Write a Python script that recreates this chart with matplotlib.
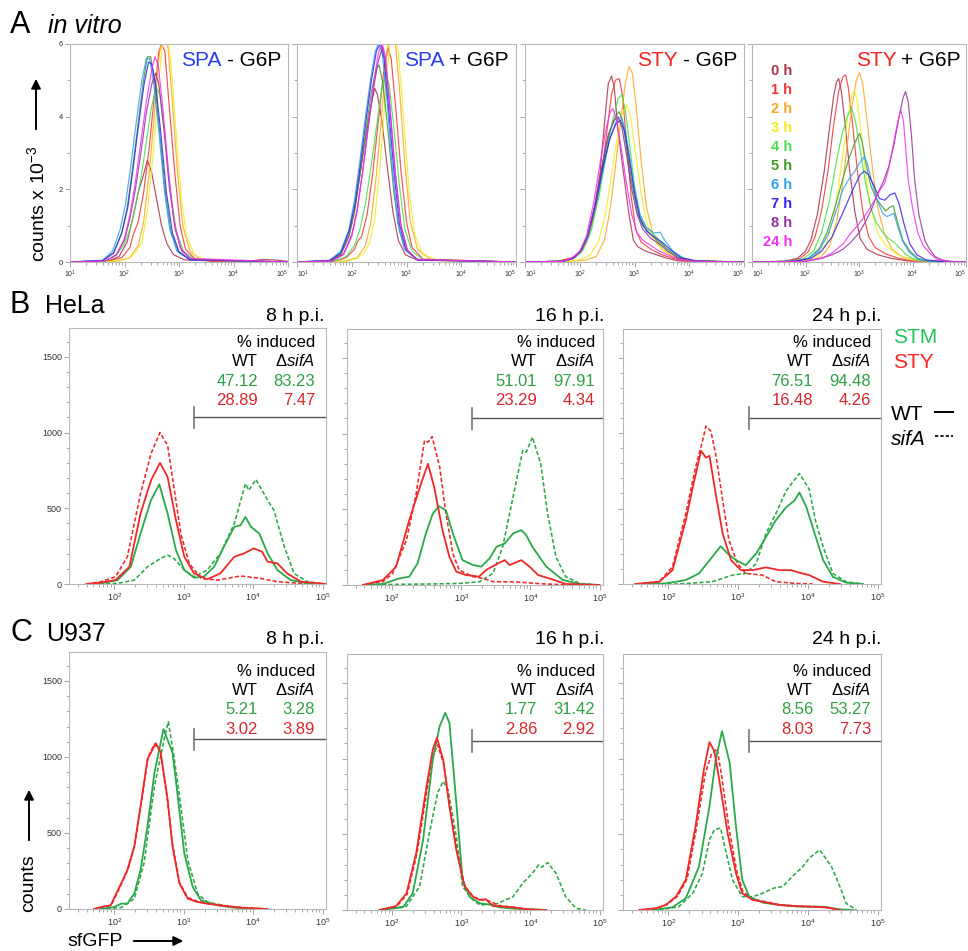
import matplotlib
matplotlib.use('Agg')
import matplotlib.pyplot as plt
import numpy as np
from matplotlib.ticker import LogLocator, MultipleLocator, NullFormatter

plt.rcParams['font.family'] = ['Liberation Sans', 'DejaVu Sans']
plt.rcParams['mathtext.fontset'] = 'custom'
plt.rcParams['mathtext.rm'] = 'Liberation Sans'
plt.rcParams['mathtext.it'] = 'Liberation Sans:italic'
plt.rcParams['mathtext.bf'] = 'Liberation Sans:bold'

# ---------------- DATA ----------------
# Curves are lists of (log10 sfGFP intensity, count) vertices.
time_labels = ['0 h', '1 h', '2 h', '3 h', '4 h', '5 h', '6 h', '7 h', '8 h', '24 h']
time_colors = ['#a8304c', '#f23434', '#f7a623', '#f2ec1c', '#44e04a', '#3f9a25',
               '#2ea0f0', '#3322ee', '#93309f', '#f22ef0']

# Panel A: counts x 10^-3
A_spa_minus = [
    [(1.0,0),(1.7,0.03),(1.9,0.15),(2.05,0.55),(2.15,1.2),(2.25,1.9),(2.33,2.3),(2.42,2.8),(2.5,2.45),(2.58,1.8),(2.68,1.0),(2.78,0.5),(2.9,0.2),(3.1,0.06),(3.6,0.03),(4.3,0.03),(4.55,0.07),(4.8,0.05),(5.0,0.02)],
    [(1.0,0),(1.7,0.02),(1.95,0.12),(2.1,0.4),(2.16,0.75),(2.25,1.1),(2.35,1.9),(2.45,3.1),(2.55,4.6),(2.63,5.8),(2.68,6.0),(2.74,5.8),(2.82,4.3),(2.92,2.5),(3.02,1.0),(3.12,0.35),(3.3,0.08),(3.6,0.02),(5.0,0)],
    [(1.0,0),(1.85,0.02),(2.1,0.12),(2.25,0.45),(2.35,1.1),(2.45,2.4),(2.55,4.1),(2.63,5.6),(2.7,6.4),(2.78,6.2),(2.87,4.6),(2.97,2.5),(3.07,1.0),(3.2,0.3),(3.4,0.06),(5.0,0)],
    [(1.0,0),(1.9,0.02),(2.1,0.12),(2.22,0.3),(2.32,0.55),(2.42,1.4),(2.52,2.9),(2.62,4.8),(2.7,6.1),(2.76,6.4),(2.84,5.7),(2.94,3.7),(3.04,1.8),(3.14,0.7),(3.28,0.2),(3.5,0.05),(5.0,0)],
    [(1.0,0),(1.65,0.03),(1.85,0.18),(2.0,0.5),(2.1,0.9),(2.2,1.5),(2.3,2.3),(2.4,3.3),(2.5,4.3),(2.58,4.8),(2.65,4.6),(2.74,3.5),(2.84,2.0),(2.95,0.85),(3.08,0.3),(3.3,0.06),(5.0,0)],
    [(1.0,0),(1.6,0.04),(1.8,0.25),(1.95,0.8),(2.05,1.5),(2.15,2.6),(2.25,3.8),(2.35,5.0),(2.42,5.65),(2.48,5.65),(2.55,5.0),(2.65,3.5),(2.75,1.9),(2.85,0.85),(2.98,0.3),(3.2,0.07),(5.0,0)],
    [(1.0,0),(1.6,0.05),(1.78,0.3),(1.92,0.9),(2.02,1.6),(2.12,2.7),(2.22,3.9),(2.32,5.0),(2.4,5.6),(2.46,5.6),(2.53,5.0),(2.63,3.6),(2.73,2.0),(2.83,0.9),(2.96,0.3),(3.2,0.06),(5.0,0)],
    [(1.0,0),(1.6,0.04),(1.8,0.25),(1.95,0.8),(2.06,1.5),(2.16,2.6),(2.26,3.8),(2.36,4.9),(2.44,5.5),(2.5,5.45),(2.57,4.9),(2.67,3.5),(2.77,1.9),(2.88,0.8),(3.0,0.28),(3.2,0.06),(5.0,0)],
    [(1.0,0),(1.65,0.03),(1.85,0.2),(2.0,0.6),(2.1,1.2),(2.2,2.0),(2.3,3.0),(2.4,4.1),(2.5,4.9),(2.57,5.2),(2.63,4.9),(2.72,3.7),(2.82,2.1),(2.93,0.9),(3.05,0.3),(3.25,0.06),(5.0,0)],
    [(1.0,0),(1.65,0.03),(1.85,0.2),(2.0,0.65),(2.1,1.3),(2.2,2.2),(2.3,3.3),(2.4,4.4),(2.5,5.3),(2.56,5.65),(2.62,5.4),(2.7,4.3),(2.8,2.6),(2.9,1.2),(3.02,0.4),(3.2,0.1),(5.0,0)],
]
A_spa_plus = [
    [(1.0,0),(1.6,0.03),(1.8,0.2),(1.95,0.7),(2.05,1.4),(2.15,2.4),(2.25,3.4),(2.35,4.3),(2.42,4.78),(2.47,4.6),(2.55,3.9),(2.65,2.6),(2.75,1.4),(2.85,0.6),(2.98,0.2),(3.2,0.05),(5.0,0)],
    [(1.0,0),(1.7,0.02),(1.9,0.12),(2.05,0.35),(2.12,0.6),(2.18,0.7),(2.28,1.3),(2.38,2.4),(2.48,3.8),(2.58,5.2),(2.66,5.9),(2.72,5.6),(2.8,4.3),(2.9,2.5),(3.0,1.1),(3.1,0.4),(3.3,0.08),(5.0,0)],
    [(1.0,0),(1.85,0.02),(2.1,0.12),(2.25,0.45),(2.35,1.1),(2.45,2.4),(2.55,4.1),(2.63,5.6),(2.7,6.4),(2.78,6.3),(2.87,4.8),(2.97,2.7),(3.07,1.1),(3.2,0.35),(3.45,0.06),(4.0,0.02),(5.0,0)],
    [(1.0,0),(1.9,0.02),(2.1,0.1),(2.22,0.25),(2.32,0.5),(2.42,1.2),(2.52,2.7),(2.62,4.7),(2.7,6.1),(2.77,6.4),(2.85,5.8),(2.95,3.9),(3.05,1.9),(3.15,0.75),(3.3,0.2),(3.6,0.04),(4.2,0.02),(5.0,0)],
    [(1.0,0),(1.7,0.03),(1.9,0.15),(2.05,0.45),(2.15,0.9),(2.25,1.6),(2.35,2.6),(2.45,3.7),(2.55,4.8),(2.62,5.2),(2.68,4.9),(2.77,3.7),(2.87,2.1),(2.97,0.9),(3.1,0.3),(3.3,0.06),(5.0,0)],
    [(1.0,0),(1.6,0.04),(1.8,0.22),(1.95,0.75),(2.05,1.4),(2.15,2.4),(2.25,3.5),(2.35,4.6),(2.44,5.3),(2.5,5.42),(2.57,4.9),(2.67,3.5),(2.77,1.9),(2.87,0.85),(3.0,0.3),(3.2,0.07),(5.0,0)],
    [(1.0,0),(1.6,0.05),(1.8,0.3),(1.95,0.9),(2.05,1.7),(2.15,2.8),(2.25,4.0),(2.35,5.1),(2.43,5.8),(2.5,6.05),(2.56,5.7),(2.64,4.5),(2.74,2.6),(2.84,1.1),(2.96,0.35),(3.2,0.06),(5.0,0)],
    [(1.0,0),(1.6,0.04),(1.8,0.25),(1.95,0.85),(2.06,1.6),(2.16,2.7),(2.26,3.9),(2.36,5.0),(2.45,5.8),(2.53,6.05),(2.59,5.6),(2.67,4.3),(2.77,2.5),(2.87,1.05),(2.99,0.35),(3.2,0.06),(5.0,0)],
    [(1.0,0),(1.65,0.03),(1.85,0.22),(2.0,0.75),(2.1,1.45),(2.2,2.5),(2.3,3.7),(2.4,4.8),(2.48,5.5),(2.56,5.9),(2.62,5.5),(2.7,4.2),(2.8,2.4),(2.9,1.0),(3.02,0.32),(3.2,0.06),(5.0,0)],
    [(1.0,0),(1.65,0.03),(1.85,0.2),(2.0,0.7),(2.1,1.4),(2.2,2.5),(2.3,3.7),(2.4,4.9),(2.48,5.7),(2.55,6.05),(2.61,5.7),(2.69,4.4),(2.79,2.5),(2.89,1.1),(3.0,0.35),(3.2,0.07),(5.0,0)],
]
A_sty_minus = [
    [(1.0,0),(1.6,0.02),(1.82,0.1),(1.92,0.15),(2.05,0.35),(2.13,0.6),(2.25,1.3),(2.37,2.44),(2.45,3.8),(2.52,4.9),(2.58,5.12),(2.63,4.8),(2.7,3.6),(2.8,2.44),(2.9,1.3),(2.98,0.6),(3.06,0.42),(3.2,0.3),(3.4,0.2),(3.6,0.1),(3.8,0.03),(5.0,0)],
    [(1.0,0),(1.6,0.02),(1.85,0.1),(2.0,0.25),(2.12,0.55),(2.25,1.2),(2.38,2.2),(2.48,3.4),(2.58,4.6),(2.65,5.0),(2.72,5.05),(2.78,4.6),(2.86,3.2),(2.94,1.8),(3.02,0.9),(3.12,0.55),(3.3,0.35),(3.5,0.2),(3.7,0.1),(3.9,0.03),(5.0,0)],
    [(1.0,0),(1.8,0.02),(2.1,0.05),(2.3,0.15),(2.45,0.6),(2.55,1.4),(2.65,2.6),(2.75,3.9),(2.83,4.9),(2.9,5.38),(2.96,5.2),(3.03,4.3),(3.12,2.8),(3.22,1.5),(3.35,0.7),(3.5,0.35),(3.7,0.15),(4.0,0.05),(4.3,0.02),(5.0,0)],
    [(1.0,0),(1.8,0.02),(2.0,0.06),(2.2,0.2),(2.35,0.6),(2.48,1.4),(2.58,2.4),(2.68,3.4),(2.78,4.1),(2.86,4.32),(2.93,4.0),(3.02,3.0),(3.12,1.9),(3.22,1.1),(3.35,0.6),(3.5,0.35),(3.7,0.15),(4.0,0.04),(5.0,0)],
    [(1.0,0),(1.7,0.02),(1.9,0.1),(2.05,0.3),(2.2,0.8),(2.35,1.8),(2.48,2.9),(2.6,3.9),(2.7,4.5),(2.77,4.6),(2.83,4.2),(2.92,3.1),(3.0,2.1),(3.1,1.3),(3.2,0.95),(3.3,0.85),(3.45,0.6),(3.6,0.35),(3.8,0.15),(4.1,0.03),(5.0,0)],
    [(1.0,0),(1.7,0.02),(1.88,0.1),(2.02,0.3),(2.15,0.75),(2.3,1.7),(2.42,2.7),(2.55,3.6),(2.65,4.0),(2.72,4.14),(2.78,3.9),(2.86,3.1),(2.95,2.2),(3.05,1.4),(3.15,1.0),(3.3,0.75),(3.45,0.55),(3.6,0.35),(3.8,0.12),(4.1,0.03),(5.0,0)],
    [(1.0,0),(1.7,0.02),(1.88,0.1),(2.02,0.3),(2.15,0.7),(2.3,1.6),(2.42,2.5),(2.55,3.4),(2.66,3.85),(2.75,4.0),(2.82,3.7),(2.9,3.0),(3.0,2.0),(3.1,1.3),(3.22,0.95),(3.35,0.8),(3.47,0.82),(3.55,0.6),(3.7,0.3),(3.9,0.1),(4.2,0.02),(5.0,0)],
    [(1.0,0),(1.7,0.02),(1.88,0.1),(2.02,0.32),(2.15,0.75),(2.3,1.65),(2.42,2.6),(2.55,3.4),(2.66,3.8),(2.74,3.9),(2.82,3.6),(2.9,2.9),(3.0,1.9),(3.1,1.2),(3.22,0.85),(3.35,0.7),(3.5,0.55),(3.65,0.35),(3.85,0.12),(4.1,0.03),(5.0,0)],
    [(1.0,0),(1.7,0.02),(1.88,0.1),(2.02,0.3),(2.15,0.75),(2.28,1.6),(2.4,2.6),(2.52,3.5),(2.63,3.9),(2.7,4.0),(2.77,3.7),(2.86,2.9),(2.95,2.0),(3.05,1.3),(3.15,0.9),(3.3,0.65),(3.45,0.5),(3.6,0.3),(3.8,0.1),(4.1,0.02),(5.0,0)],
    [(1.0,0),(1.7,0.02),(1.85,0.1),(2.0,0.3),(2.12,0.7),(2.25,1.6),(2.37,2.7),(2.47,3.6),(2.55,4.1),(2.6,4.23),(2.66,4.0),(2.75,3.2),(2.85,2.2),(2.95,1.3),(3.05,0.8),(3.15,0.6),(3.3,0.45),(3.45,0.3),(3.6,0.2),(3.8,0.08),(4.1,0.02),(5.0,0)],
]
A_sty_plus = [
    [(1.0,0),(1.6,0.02),(1.85,0.1),(2.0,0.3),(2.1,0.6),(2.22,1.3),(2.35,2.5),(2.45,3.7),(2.53,4.6),(2.58,4.95),(2.62,5.05),(2.67,4.7),(2.74,3.8),(2.82,2.6),(2.92,1.4),(3.02,0.65),(3.15,0.35),(3.35,0.2),(3.6,0.1),(3.9,0.03),(5.0,0)],
    [(1.0,0),(1.7,0.02),(1.9,0.1),(2.05,0.28),(2.18,0.7),(2.3,1.4),(2.42,2.5),(2.52,3.7),(2.62,4.7),(2.7,5.1),(2.75,5.15),(2.8,4.8),(2.88,3.8),(2.97,2.5),(3.07,1.4),(3.18,0.7),(3.3,0.4),(3.5,0.22),(3.75,0.1),(4.0,0.03),(5.0,0)],
    [(1.0,0),(1.8,0.02),(2.1,0.05),(2.3,0.15),(2.45,0.45),(2.58,1.1),(2.68,2.0),(2.78,3.2),(2.87,4.3),(2.95,5.0),(3.01,5.21),(3.07,4.9),(3.15,3.9),(3.25,2.6),(3.35,1.5),(3.48,0.75),(3.62,0.35),(3.8,0.15),(4.1,0.04),(5.0,0)],
    [(1.0,0),(1.8,0.02),(2.05,0.06),(2.25,0.2),(2.4,0.55),(2.52,1.2),(2.62,2.1),(2.72,3.2),(2.8,4.1),(2.87,4.6),(2.91,4.73),(2.96,4.5),(3.03,3.7),(3.12,2.5),(3.22,1.5),(3.35,0.8),(3.5,0.45),(3.7,0.22),(3.95,0.07),(4.3,0.02),(5.0,0)],
    [(1.0,0),(1.7,0.02),(1.95,0.08),(2.15,0.3),(2.3,0.8),(2.45,1.7),(2.57,2.7),(2.68,3.5),(2.78,4.0),(2.86,4.23),(2.93,3.9),(3.02,3.1),(3.12,2.2),(3.22,1.5),(3.32,1.1),(3.45,0.8),(3.55,0.65),(3.65,0.55),(3.75,0.4),(3.88,0.2),(4.05,0.07),(4.3,0.02),(5.0,0)],
    [(1.0,0),(1.8,0.02),(2.05,0.1),(2.25,0.35),(2.4,0.8),(2.55,1.5),(2.68,2.2),(2.8,2.8),(2.9,3.2),(2.96,3.4),(3.01,3.54),(3.06,3.3),(3.13,2.7),(3.22,2.1),(3.32,1.75),(3.42,1.55),(3.5,1.4),(3.57,1.5),(3.64,1.55),(3.72,1.1),(3.82,0.6),(3.95,0.3),(4.1,0.1),(4.3,0.02),(5.0,0)],
    [(1.0,0),(1.8,0.02),(2.05,0.1),(2.25,0.3),(2.42,0.75),(2.57,1.4),(2.7,2.0),(2.82,2.3),(2.92,2.5),(3.0,2.7),(3.1,2.9),(3.16,2.7),(3.24,2.2),(3.34,1.7),(3.44,1.35),(3.52,1.25),(3.6,1.3),(3.65,1.34),(3.72,1.0),(3.82,0.55),(3.95,0.25),(4.1,0.08),(4.3,0.02),(5.0,0)],
    [(1.0,0),(1.8,0.02),(2.1,0.1),(2.3,0.3),(2.5,0.7),(2.65,1.2),(2.8,1.7),(2.92,2.1),(3.02,2.4),(3.1,2.5),(3.18,2.4),(3.28,2.1),(3.38,1.75),(3.48,1.7),(3.58,1.85),(3.67,1.9),(3.75,1.6),(3.85,1.0),(3.95,0.5),(4.08,0.2),(4.25,0.06),(4.5,0.02),(5.0,0)],
    [(1.0,0),(2.0,0.02),(2.3,0.1),(2.5,0.2),(2.7,0.35),(2.85,0.55),(3.0,0.8),(3.12,1.1),(3.25,1.5),(3.35,1.9),(3.45,2.2),(3.55,2.6),(3.65,3.2),(3.75,4.0),(3.82,4.5),(3.87,4.69),(3.92,4.4),(3.98,3.5),(4.04,2.26),(4.12,1.3),(4.23,0.6),(4.32,0.35),(4.42,0.15),(4.55,0.06),(4.7,0.02),(5.0,0)],
    [(1.0,0),(2.0,0.02),(2.3,0.1),(2.5,0.25),(2.7,0.5),(2.85,0.8),(3.0,1.05),(3.15,1.35),(3.29,1.7),(3.4,2.0),(3.48,2.17),(3.56,2.6),(3.65,3.3),(3.73,3.9),(3.78,4.18),(3.83,3.9),(3.88,3.0),(3.92,2.26),(4.0,1.5),(4.1,0.8),(4.2,0.45),(4.32,0.25),(4.45,0.08),(4.6,0.02),(5.0,0)],
]
A_titles = [('SPA', '#2a3cf0', '- G6P'), ('SPA', '#2a3cf0', '+ G6P'),
            ('STY', '#f52020', '- G6P'), ('STY', '#f52020', '+ G6P')]
A_decades = [1, 2, 3, 4, 5]

# Panels B (HeLa) and C (U937): counts; order: STM WT, STM sifA, STY WT, STY sifA
B8_stm_wt = [(1.7,0),(1.81,4),(2.05,26),(2.24,114),(2.38,333),(2.53,553),(2.65,658),(2.77,465),(2.89,224),(3.01,92),(3.15,42),(3.29,48),(3.44,114),(3.58,246),(3.73,377),(3.82,388),(3.89,443),(3.97,377),(4.09,333),(4.21,202),(4.35,92),(4.54,26),(4.78,4),(5.05,0)]
B8_stm_sifa = [(1.7,0),(2.05,4),(2.29,26),(2.48,114),(2.67,169),(2.77,191),(2.86,169),(3.01,92),(3.15,48),(3.34,92),(3.53,202),(3.73,399),(3.89,662),(3.94,618),(4.04,690),(4.21,553),(4.30,487),(4.45,246),(4.59,70),(4.78,15),(5.05,0)]
B8_sty_wt = [(1.6,0),(1.81,9),(2.02,26),(2.22,114),(2.38,465),(2.53,684),(2.66,800),(2.77,706),(2.89,421),(3.01,180),(3.15,70),(3.34,31),(3.53,70),(3.73,180),(3.87,202),(4.01,235),(4.13,213),(4.21,147),(4.35,136),(4.49,70),(4.69,15),(5.05,0)]
B8_sty_sifa = [(1.6,0),(1.81,15),(2.02,48),(2.19,180),(2.38,596),(2.53,860),(2.66,1000),(2.77,914),(2.86,640),(2.96,333),(3.08,136),(3.25,37),(3.49,26),(3.82,53),(4.11,37),(4.35,15),(4.69,4),(5.05,0)]

B16_stm_wt = [(1.58,0),(1.87,7),(2.11,44),(2.25,55),(2.37,143),(2.49,340),(2.59,471),(2.68,520),(2.78,493),(2.88,340),(3.02,164),(3.17,132),(3.29,121),(3.41,175),(3.51,252),(3.63,274),(3.75,340),(3.87,362),(3.94,329),(4.03,252),(4.23,121),(4.47,33),(4.71,7),(5.0,0)]
B16_stm_sifa = [(1.58,0),(2.0,4),(2.6,7),(3.0,11),(3.27,22),(3.46,77),(3.60,252),(3.75,581),(3.89,888),(3.94,877),(4.03,976),(4.15,800),(4.25,471),(4.37,186),(4.51,55),(4.71,11),(4.95,0)]
B16_sty_wt = [(1.58,0),(1.87,33),(2.06,121),(2.25,428),(2.42,669),(2.52,800),(2.61,647),(2.73,362),(2.83,186),(2.93,88),(3.07,66),(3.26,55),(3.36,99),(3.55,147),(3.63,164),(3.70,132),(3.87,164),(3.99,121),(4.11,66),(4.27,44),(4.51,7),(5.0,0)]
B16_sty_sifa = [(1.58,0),(1.87,22),(2.01,77),(2.21,296),(2.35,603),(2.47,954),(2.52,943),(2.58,980),(2.69,778),(2.78,471),(2.88,208),(2.97,99),(3.17,55),(3.31,44),(3.46,22),(3.8,20),(4.2,7),(4.6,0)]

B24_stm_wt = [(1.53,0),(1.96,4),(2.25,26),(2.44,70),(2.63,180),(2.75,250),(2.85,202),(2.97,158),(3.11,125),(3.26,202),(3.40,311),(3.54,421),(3.69,509),(3.81,553),(3.88,607),(3.98,509),(4.07,377),(4.22,158),(4.36,48),(4.55,9),(4.79,0)]
B24_stm_sifa = [(1.53,0),(2.15,0),(2.63,15),(2.92,59),(3.11,70),(3.26,136),(3.40,333),(3.54,465),(3.69,618),(3.78,673),(3.88,732),(4.02,629),(4.11,421),(4.22,246),(4.36,70),(4.55,15),(4.79,0)]
B24_sty_wt = [(1.53,0),(1.87,15),(2.06,92),(2.25,421),(2.35,640),(2.47,882),(2.54,838),(2.59,849),(2.68,596),(2.78,333),(2.90,158),(3.04,92),(3.21,92),(3.40,110),(3.59,92),(3.76,92),(3.88,75),(4.02,59),(4.22,15),(4.46,0)]
B24_sty_sifa = [(1.53,0),(1.87,15),(2.06,114),(2.25,465),(2.39,772),(2.49,947),(2.54,1046),(2.61,1013),(2.68,860),(2.78,553),(2.87,289),(2.99,136),(3.11,70),(3.35,59),(3.54,15),(3.83,4),(4.07,0)]

C8_stm_wt = [(1.8,0),(2.0,13),(2.10,35),(2.19,35),(2.29,102),(2.38,256),(2.48,543),(2.58,896),(2.71,1183),(2.84,1029),(2.91,764),(3.01,366),(3.13,146),(3.25,57),(3.49,24),(3.73,9),(4.01,0)]
C8_stm_sifa = [(1.8,0),(2.10,9),(2.29,68),(2.43,300),(2.58,808),(2.72,1117),(2.78,1232),(2.86,1007),(2.96,675),(3.06,322),(3.20,102),(3.34,46),(3.63,18),(4.01,0)]
C8_sty_wt = [(1.71,0),(1.81,13),(1.95,24),(2.10,168),(2.19,256),(2.29,411),(2.38,675),(2.48,985),(2.60,1090),(2.67,1029),(2.77,720),(2.84,411),(2.94,168),(3.06,68),(3.20,46),(3.34,35),(3.63,18),(3.82,9),(4.21,0)]
C8_sty_sifa = [(1.71,0),(1.83,11),(1.96,26),(2.10,160),(2.20,262),(2.30,430),(2.39,700),(2.49,1000),(2.58,1085),(2.66,1040),(2.76,740),(2.84,430),(2.94,175),(3.06,75),(3.20,50),(3.34,37),(3.63,20),(3.82,10),(4.21,0)]

C16_stm_wt = [(1.82,0),(2.16,18),(2.30,110),(2.45,464),(2.59,993),(2.69,1214),(2.77,1302),(2.83,1236),(2.93,706),(3.02,199),(3.12,88),(3.27,44),(3.46,33),(3.55,18),(3.75,9),(4.23,0)]
C16_stm_sifa = [(1.82,0),(2.21,26),(2.40,155),(2.54,508),(2.66,773),(2.74,850),(2.81,795),(2.93,486),(3.02,155),(3.17,66),(3.27,33),(3.51,40),(3.75,88),(3.89,177),(4.03,243),(4.12,298),(4.17,283),(4.25,313),(4.37,243),(4.51,88),(4.66,11),(4.80,0)]
C16_sty_wt = [(1.82,0),(2.06,26),(2.21,110),(2.35,375),(2.50,817),(2.59,1060),(2.65,1137),(2.74,993),(2.83,684),(2.93,397),(3.05,155),(3.17,88),(3.27,66),(3.36,71),(3.46,26),(3.65,22),(3.99,4),(4.23,0)]
C16_sty_sifa = [(1.82,0),(2.07,24),(2.22,105),(2.36,370),(2.51,800),(2.60,1030),(2.66,1090),(2.75,960),(2.84,670),(2.94,390),(3.05,160),(3.17,90),(3.27,70),(3.40,60),(3.55,30),(3.75,18),(3.99,4),(4.23,0)]

C24_stm_wt = [(1.77,0),(2.06,18),(2.25,77),(2.44,287),(2.59,684),(2.68,993),(2.77,1181),(2.88,971),(2.97,552),(3.06,199),(3.16,88),(3.35,49),(3.59,33),(3.88,22),(4.22,22),(4.46,4),(4.65,0)]
C24_stm_sifa = [(1.87,0),(2.15,22),(2.35,110),(2.49,243),(2.59,464),(2.66,530),(2.75,541),(2.82,397),(2.92,199),(3.06,88),(3.21,88),(3.35,110),(3.50,143),(3.64,155),(3.78,221),(3.93,287),(4.02,342),(4.17,397),(4.34,287),(4.46,155),(4.55,44),(4.70,0)]
C24_sty_wt = [(1.58,0),(1.82,11),(1.96,33),(2.11,88),(2.25,199),(2.39,552),(2.51,927),(2.59,1108),(2.66,1049),(2.73,861),(2.85,508),(2.97,243),(3.06,110),(3.21,66),(3.35,55),(3.59,33),(3.83,26),(4.07,22),(4.26,18),(4.46,0)]
C24_sty_sifa = [(1.58,0),(1.84,12),(1.98,35),(2.13,90),(2.27,205),(2.41,560),(2.53,900),(2.62,1030),(2.70,1064),(2.76,900),(2.87,540),(2.98,260),(3.07,120),(3.22,72),(3.36,58),(3.60,35),(3.84,26),(4.08,20),(4.28,15),(4.48,0)]

B_curves = [[B8_stm_wt, B8_stm_sifa, B8_sty_wt, B8_sty_sifa],
            [B16_stm_wt, B16_stm_sifa, B16_sty_wt, B16_sty_sifa],
            [B24_stm_wt, B24_stm_sifa, B24_sty_wt, B24_sty_sifa]]
C_curves = [[C8_stm_wt, C8_stm_sifa, C8_sty_wt, C8_sty_sifa],
            [C16_stm_wt, C16_stm_sifa, C16_sty_wt, C16_sty_sifa],
            [C24_stm_wt, C24_stm_sifa, C24_sty_wt, C24_sty_sifa]]
timepoints = ['8 h p.i.', '16 h p.i.', '24 h p.i.']
# % induced: [STM WT, STM sifA, STY WT, STY sifA]
B_induced = [['47.12', '83.23', '28.89', '7.47'],
             ['51.01', '97.91', '23.29', '4.34'],
             ['76.51', '94.48', '16.48', '4.26']]
C_induced = [['5.21', '3.28', '3.02', '3.89'],
             ['1.77', '31.42', '2.86', '2.92'],
             ['8.56', '53.27', '8.03', '7.73']]
gate_threshold = 10 ** 3.15
B_gate_level = 1100
C_gate_level = 1115

GREEN = '#2ba84a'
RED = '#f02828'
NUM_GREEN = '#2f9f45'
NUM_RED = '#d9262c'

# ---------------- FIGURE ----------------
W, H = 968, 951
fig = plt.figure(figsize=(W / 100, H / 100), dpi=100)


def add_ax(l, t, r, b):
    return fig.add_axes([l / W, 1 - b / H, (r - l) / W, (b - t) / H])


def style(ax, xlim, ylim, ymaj, ymin, ylabels, lsize):
    ax.set_xscale('log')
    ax.set_xlim(*xlim)
    ax.set_ylim(*ylim)
    for s in ax.spines.values():
        s.set_color('#b8b8b8')
        s.set_linewidth(0.8)
    ax.xaxis.set_major_locator(LogLocator(base=10, numticks=12))
    ax.xaxis.set_minor_locator(LogLocator(base=10, subs=np.arange(2, 10), numticks=12))
    ax.xaxis.set_minor_formatter(NullFormatter())
    ax.yaxis.set_major_locator(MultipleLocator(ymaj))
    ax.yaxis.set_minor_locator(MultipleLocator(ymin))
    ax.tick_params(which='both', direction='out', color='#999999', width=0.6,
                   labelcolor='#333333', labelsize=lsize, pad=1.5)
    ax.tick_params(which='major', length=3.5)
    ax.tick_params(which='minor', length=2)
    if not ylabels:
        ax.set_yticklabels([])


def xy(curve):
    lx = np.array([p[0] for p in curve])
    y = np.array([p[1] for p in curve])
    return 10.0 ** lx, y


# Panel A
A_boxes = [(70, 44, 288, 262), (297, 44, 516, 262), (525, 44, 744, 262), (752, 44, 966, 262)]
A_data = [A_spa_minus, A_spa_plus, A_sty_minus, A_sty_plus]
for i, (box, curves) in enumerate(zip(A_boxes, A_data)):
    ax = add_ax(*box)
    style(ax, (10, 1e5), (0, 6), 2, 1, i == 0, 5.5)
    ax.set_xticks([10.0 ** d for d in A_decades])
    labs = ax.set_xticklabels([r'$10^{%d}$' % d for d in A_decades], fontsize=5)
    labs[-1].set_horizontalalignment('right')
    if i > 0:
        labs[0].set_horizontalalignment('left')
    for c, col in zip(curves, time_colors):
        x, y = xy(c)
        ax.plot(x, y, color=col, lw=0.85, alpha=0.85)

# Panels B and C
BC_cols = [(69, 326), (347, 603), (623, 881)]
B_tb = [(328, 584), (329, 585), (329, 584)]
C_tb = [(652, 909), (654, 910), (654, 910)]
styles = [(GREEN, '-'), (GREEN, (0, (2.6, 1.4))), (RED, '-'), (RED, (0, (2.6, 1.4)))]
bc_xlim = (10 ** 1.35, 10 ** 5.05)
for row_curves, tbs, gate_level in [(B_curves, B_tb, B_gate_level), (C_curves, C_tb, C_gate_level)]:
    for j in range(3):
        l, r = BC_cols[j]
        t, b = tbs[j]
        ax = add_ax(l, t, r, b)
        style(ax, bc_xlim, (0, 1690), 500, 100, j == 0, 6.5)
        for k in [1, 3, 0, 2]:
            x, y = xy(row_curves[j][k])
            col, ls = styles[k]
            ax.plot(x, y, color=col, ls=ls, lw=1.3 if ls == '-' else 1.15)
        ax.plot([gate_threshold, bc_xlim[1]], [gate_level, gate_level], color='#555555', lw=1.0, clip_on=False)
        ax.plot([gate_threshold, gate_threshold], [gate_level - 70, gate_level + 70], color='#777777', lw=1.2)

# Overlay for text and arrows in pixel space
ov = fig.add_axes([0, 0, 1, 1])
ov.set_xlim(0, W)
ov.set_ylim(H, 0)
ov.axis('off')
renderer = fig.canvas.get_renderer()


def T(x, y, s, size, ha='left', color='black', **kw):
    return ov.text(x, y, s, fontsize=size, ha=ha, va='baseline', color=color, **kw)


T(10, 33, 'A', 22)
T(48, 33, 'in vitro', 18, style='italic')
T(10, 313, 'B', 22)
T(45, 313, 'HeLa', 18)
T(10, 641, 'C', 22)
T(46, 641, 'U937', 18)

# Panel A titles (coloured strain + black condition)
A_title_right = [281, 509, 737, 961]
for (word, wcol, rest), xr in zip(A_titles, A_title_right):
    t = T(xr, 66, rest, 15, ha='right')
    bb = t.get_window_extent(renderer)
    x0 = ov.transData.inverted().transform((bb.x0, bb.y0))[0]
    T(x0 - 5, 66, word, 15, ha='right', color=wcol)

# Panel A legend
for i, (lab, col) in enumerate(zip(time_labels, time_colors)):
    T(792, 75 + 19 * i, lab, 10.5, ha='right', color=col, fontweight='bold')

# A y-label and arrow
ov.text(37, 262, r'counts x 10$^{-3}$', fontsize=14, rotation=90, ha='center', va='bottom')
ov.annotate('', xy=(36, 76), xytext=(36, 132),
            arrowprops=dict(arrowstyle='-|>', color='black', lw=1.4, mutation_scale=14))

# C axis labels and arrows
ov.text(29, 912, 'counts', fontsize=14, rotation=90, ha='center', va='bottom')
ov.annotate('', xy=(29, 787), xytext=(29, 843),
            arrowprops=dict(arrowstyle='-|>', color='black', lw=1.4, mutation_scale=14))
T(67, 946, 'sfGFP', 14)
ov.annotate('', xy=(186, 941), xytext=(131, 941),
            arrowprops=dict(arrowstyle='-|>', color='black', lw=1.4, mutation_scale=14))

# B/C annotation text
tp_right = [325, 604, 882]
wt_right = [258, 537, 813]
sifa_right = [315, 595, 871]
rows = [(B_induced, 321, 347, 366.5, 386, 405), (C_induced, 643.5, 676, 695, 714.5, 733.5)]
for induced, ytp, yind, ywt, yg, yr in rows:
    for j in range(3):
        T(tp_right[j], ytp, timepoints[j], 14, ha='right')
        T(sifa_right[j], yind, '% induced', 12, ha='right')
        T(wt_right[j], ywt, 'WT', 12, ha='right')
        T(sifa_right[j], ywt, r'Δ$\mathit{sifA}$', 12, ha='right')
        T(wt_right[j], yg, induced[j][0], 12, ha='right', color=NUM_GREEN)
        T(sifa_right[j], yg, induced[j][1], 12, ha='right', color=NUM_GREEN)
        T(wt_right[j], yr, induced[j][2], 12, ha='right', color=NUM_RED)
        T(sifa_right[j], yr, induced[j][3], 12, ha='right', color=NUM_RED)

# B legend
T(893, 343, 'STM', 15, color='#22c35e')
T(893, 368, 'STY', 15, color='#ff2222')
T(891, 420, 'WT', 15)
T(891, 445, 'sifA', 15, style='italic')
ov.plot([935, 953], [412, 412], color='black', lw=1.4)
ov.plot([935, 953], [436, 436], color='black', lw=1.2, ls=(0, (2, 1.2)))

fig.savefig('out.png', dpi=100)
